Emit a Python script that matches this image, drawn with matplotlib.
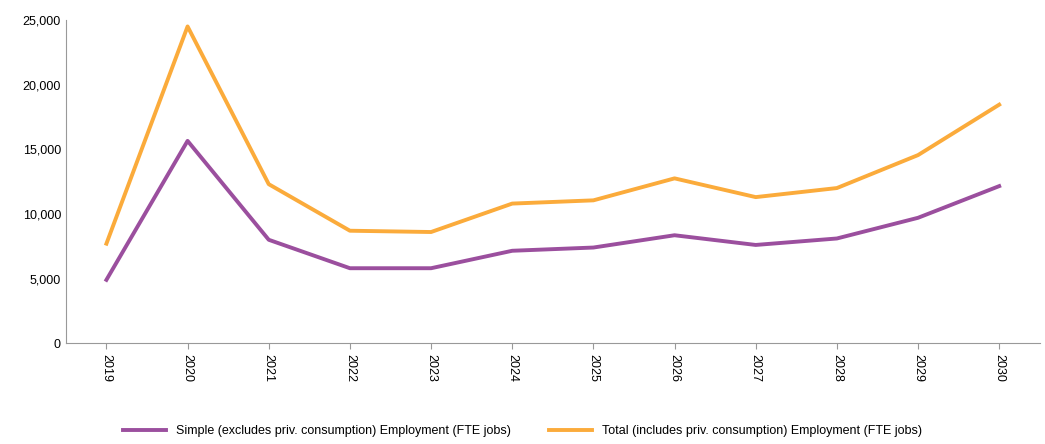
import matplotlib.pyplot as plt
from matplotlib.ticker import FuncFormatter

plt.rcParams['font.family'] = ['Liberation Sans', 'DejaVu Sans']

years = [str(y) for y in range(2019, 2031)]
simple = [4900, 15650, 8000, 5800, 5800, 7150, 7400, 8350, 7600, 8100, 9700, 12150]
total = [7700, 24500, 12300, 8700, 8600, 10800, 11050, 12750, 11300, 12000, 14550, 18450]

fig = plt.figure(figsize=(10.45, 4.44), dpi=100)
ax = fig.add_axes([0.063, 0.227, 0.932, 0.728])
x = range(len(years))
ax.plot(x, simple, color='#9b4f9e', lw=2.8, label='Simple (excludes priv. consumption) Employment (FTE jobs)')
ax.plot(x, total, color='#fbab3b', lw=2.8, label='Total (includes priv. consumption) Employment (FTE jobs)')

ax.set_ylim(0, 25000)
ax.set_yticks(range(0, 25001, 5000))
ax.yaxis.set_major_formatter(FuncFormatter(lambda v, p: f'{int(v):,}'))
ax.set_xlim(-0.5, len(years) - 0.5)
ax.set_xticks(list(x))
ax.set_xticklabels(years, rotation=270)
ax.tick_params(labelsize=9, colors='black', length=4)
ax.tick_params(axis='y', length=0)
ax.tick_params(axis='x', color='#999999', direction='out')
for s in ['top', 'right']:
    ax.spines[s].set_visible(False)
for s in ['left', 'bottom']:
    ax.spines[s].set_color('#999999')

fig.legend(loc='lower center', ncol=2, frameon=False, fontsize=9,
           bbox_to_anchor=(0.5, -0.01), handlelength=3.5, columnspacing=3)
fig.savefig('out.png', dpi=100)
